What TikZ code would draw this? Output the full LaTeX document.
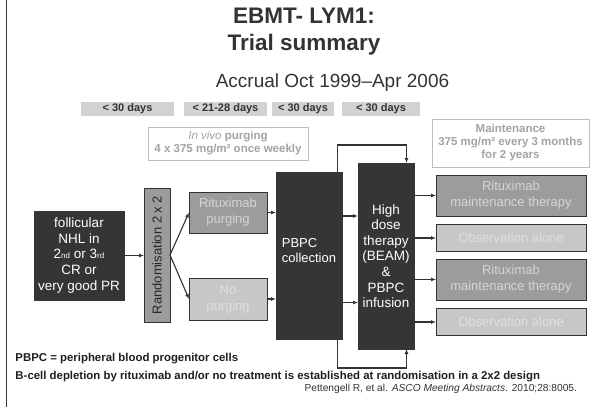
\documentclass[tikz,border=0pt]{standalone}
\usepackage{fontspec}
\setmainfont{Liberation Sans}
\usetikzlibrary{arrows.meta}

\definecolor{ink}{HTML}{333333}
\definecolor{darkfill}{HTML}{353535}
\definecolor{midfill}{HTML}{9C9C9C}
\definecolor{lightfill}{HTML}{C7C7C7}
\definecolor{midtext}{HTML}{D5D5D5}
\definecolor{lighttext}{HTML}{E0E0E0}
\definecolor{dayfill}{HTML}{D2D2D2}
\definecolor{notetext}{HTML}{A3A3A3}
\definecolor{noteedge}{HTML}{BDBDBD}

\newcommand\setfs[2]{\fontsize{#1}{#2}\selectfont}

\begin{document}
\begin{tikzpicture}[x=1pt, y=-1pt,
  every node/.style={inner sep=0pt, outer sep=0pt},
  boxbase/.style={align=center, line width=0.9pt},
  darkbox/.style={boxbase, fill=darkfill, draw=darkfill, text=white, font=\setfs{13.5}{15.6}},
  midbox/.style={boxbase, fill=midfill, draw=ink, text=midtext, font=\setfs{13}{16}},
  lightbox/.style={boxbase, fill=lightfill, draw=ink, text=lighttext, font=\setfs{13}{16}},
  daybox/.style={fill=dayfill, text=ink, font=\bfseries\setfs{11}{13}, minimum height=14pt},
  notebox/.style={draw=noteedge, line width=0.8pt, fill=white, text=notetext, align=center,
    font=\bfseries\setfs{11.5}{13}},
  footnote/.style={anchor=base west, font=\bfseries\setfs{11.4}{13}, text=black!88},
  link/.style={draw=ink, line width=1.1pt, -{Latex[length=5pt,width=4pt]}},
]
\useasboundingbox (0,0) rectangle (599,407);
\fill[white] (0,0) rectangle (599,407);
\draw[ink, line width=1.2pt] (6.5,0) -- (6.5,407);

% heading
\node[anchor=base, font=\bfseries\setfs{22.5}{27}, text=ink] (title1) at (304,23.5) {EBMT- LYM1:};
\node[anchor=base, font=\bfseries\setfs{22.5}{27}, text=ink] (title2) at (304,50) {Trial summary};
\node[anchor=base, font=\setfs{19}{22}, text=ink] (accrual) at (332.5,87) {Accrual Oct 1999–Apr 2006};

% time windows
\node[daybox, minimum width=93pt] (d1) at (127.5,108.5) {< 30 days};
\node[daybox, minimum width=83pt] (d2) at (225.5,108.5) {< 21-28 days};
\node[daybox, minimum width=62pt] (d3) at (303,108.5) {< 30 days};
\node[daybox, minimum width=78pt] (d4) at (381,108.5) {< 30 days};

% dosing notes
\node[notebox, minimum width=160pt, minimum height=33pt] (invivo) at (228,143.5)
  {{\mdseries\itshape In vivo} purging\\4 x 375 mg/m² once weekly};
\node[notebox, minimum width=157pt, minimum height=48pt] (maint) at (510.5,143)
  {Maintenance\\375 mg/m² every 3 months\\for 2 years};

% flow boxes
\node[darkbox, minimum width=90pt, minimum height=89pt] (foll) at (79,255.5)
  {follicular\\NHL in\\2{\setfs{8}{8}nd} or 3{\setfs{8}{8}rd}\\CR or\\very good PR};
\node[boxbase, fill=midfill, draw=ink, text=black!85, font=\setfs{13}{15},
  minimum width=26pt, minimum height=134pt] (rand) at (157,255)
  {\rotatebox{90}{Randomisation 2 x 2}};
\node[midbox, minimum width=78pt, minimum height=41pt] (ritp) at (228,212.5) {Rituximab\\purging};
\node[lightbox, minimum width=78pt, minimum height=42pt] (nop) at (228,299) {No\\purging};
\node[darkbox, minimum width=66pt, minimum height=167pt] (pbpc) at (309,255.5) {};
\node[text=white, font=\setfs{13}{15}, align=left] (pbpctext) at (309,250.5) {PBPC\\collection};
\node[darkbox, minimum width=56pt, minimum height=186pt] (hd) at (386,256)
  {High\\dose\\therapy\\(BEAM)\\\&\\PBPC\\infusion};
\node[midbox, minimum width=150pt, minimum height=41pt] (rm1) at (511,195.5) {Rituximab\\maintenance therapy};
\node[lightbox, minimum width=150pt, minimum height=27pt] (obs1) at (511,238) {Observation alone};
\node[midbox, minimum width=150pt, minimum height=41pt] (rm2) at (511,279.5) {Rituximab\\maintenance therapy};
\node[lightbox, minimum width=150pt, minimum height=27pt] (obs2) at (511,322) {Observation alone};

% rows of the collection-to-transplant arrows
\coordinate (row1) at (0,216);
\coordinate (row2) at (0,302.5);

% connectors
\draw[link] (foll.east) -- (rand.west |- foll.east);
\draw[link] (rand.east) -- (ritp.west);
\draw[link] (rand.east) -- (nop.west);
\draw[link] (ritp.east) -- (ritp.east -| pbpc.west);
\draw[link] (nop.east) -- (nop.east -| pbpc.west);
\draw[link] (pbpc.east |- row1) -- (hd.west |- row1);
\draw[link] (pbpc.east |- row2) -- (hd.west |- row2);
\draw[link] ([xshift=-4.5pt]pbpc.north east) -- ++(0,-27) -| ([xshift=-7.5pt]hd.north east);
\draw[link] ([xshift=-4.5pt]pbpc.south east) -- ++(0,29) -| ([xshift=-7.5pt]hd.south east);
\draw[link] (hd.east |- rm1.west) -- (rm1.west);
\draw[link] (hd.east |- obs1.west) -- (obs1.west);
\draw[link] (hd.east |- rm2.west) -- (rm2.west);
\draw[link] (hd.east |- obs2.west) -- (obs2.west);

% footnotes
\node[footnote] (abbrev) at (15.5,361.5) {PBPC = peripheral blood progenitor cells};
\node[footnote] (design) at (15.5,379.5)
  {B-cell depletion by rituximab and/or no treatment is established at randomisation in a 2x2 design};
\node[anchor=base east, font=\setfs{10.2}{12}, text=ink] (ref) at (577,391.5)
  {Pettengell R, et al. \textit{ASCO Meeting Abstracts}. 2010;28:8005.};
\end{tikzpicture}
\end{document}
